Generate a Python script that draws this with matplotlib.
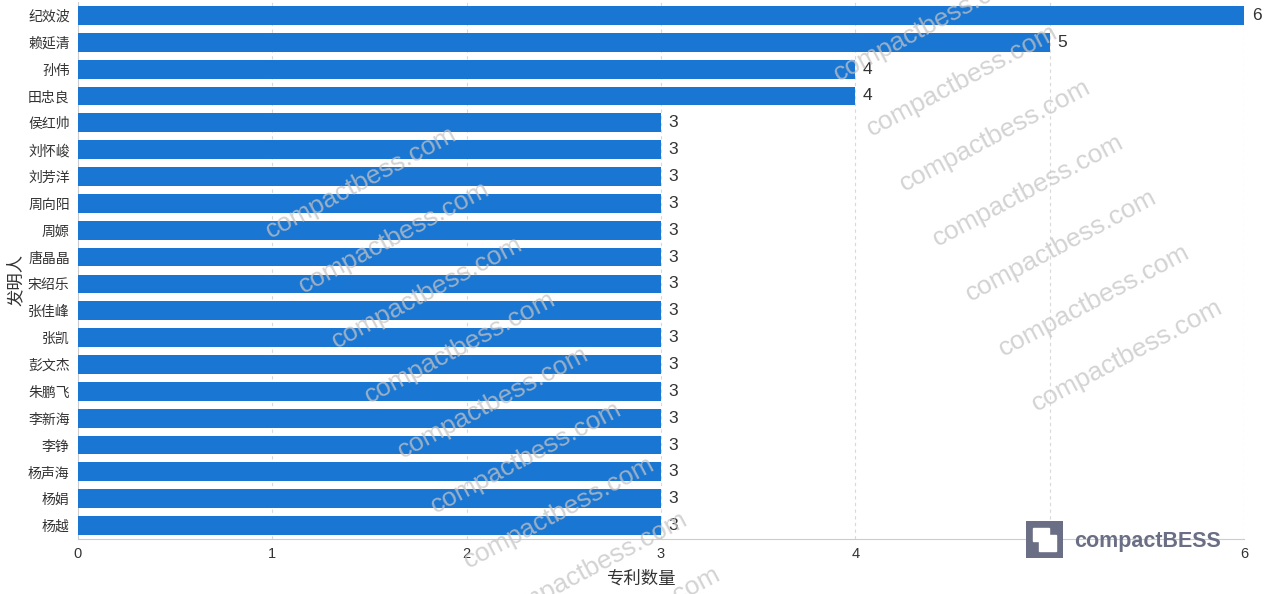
import numpy as np
import matplotlib.pyplot as plt
from matplotlib.patches import Rectangle

plt.rcParams['font.family'] = ['Liberation Sans', 'Noto Sans CJK SC', 'DejaVu Sans']

# data
inventors = ['纪效波', '赖延清', '孙伟', '田忠良', '侯红帅', '刘怀峻', '刘芳洋', '周向阳', '周嫄',
             '唐晶晶', '宋绍乐', '张佳峰', '张凯', '彭文杰', '朱鹏飞', '李新海', '李铮', '杨声海',
             '杨娟', '杨越']
patents = [6, 5, 4, 4, 3, 3, 3, 3, 3, 3, 3, 3, 3, 3, 3, 3, 3, 3, 3, 3]
x_ticks = [0, 1, 2, 3, 4, 5, 6]

W, H = 1269, 594
fig = plt.figure(figsize=(W / 100, H / 100), dpi=100)
ax = fig.add_axes([78 / W, 1 - 539 / H, (1244 - 78) / W, 537 / H])

y = np.arange(len(inventors))
ax.barh(y, patents, height=0.7, color='#1976d2', zorder=3)
for yi, v in zip(y, patents):
    ax.text(v + 0.04, yi, str(v), va='center', ha='left', fontsize=12.5,
            color='#333333', zorder=4)

ax.set_ylim(len(inventors) - 0.5, -0.5)
ax.set_xlim(0, 6)
ax.set_yticks(y)
ax.set_yticklabels(inventors, fontsize=10, color='#333333')
ax.set_xticks(x_ticks)
ax.set_xticklabels([str(t) for t in x_ticks], fontsize=10.5, color='#333333')
ax.tick_params(axis='both', length=0, pad=6)
ax.grid(axis='x', linestyle=(0, (3, 3)), color='#d9d9d9', linewidth=0.8, zorder=0)
for s in ['top', 'right']:
    ax.spines[s].set_visible(False)
ax.spines['left'].set_color('#cccccc')
ax.spines['bottom'].set_color('#cccccc')

fig.text(641 / W, 1 - 578 / H, '专利数量', ha='center', va='center',
         fontsize=12.5, color='#333333')
fig.text(15 / W, 1 - 280 / H, '发明人', ha='center', va='center',
         rotation=90, fontsize=12.5, color='#333333')

# watermarks (two diagonal columns)
wm_pos = [(361 + 33 * i, 182 + 55 * i) for i in range(9)]
wm_pos += [(962 + 33 * i, 80 + 55 * i) for i in range(-1, 6)]
for px, py in wm_pos:
    fig.text(px / W, 1 - py / H, 'compactbess.com', ha='center', va='center',
             rotation=28, fontsize=19, color='#c4c4c4', alpha=0.75, zorder=10,
             clip_on=True)

# logo
logo_ax = fig.add_axes([1026 / W, 1 - 558 / H, 37 / W, 37 / H])
logo_ax.set_xlim(0, 1)
logo_ax.set_ylim(0, 1)
logo_ax.axis('off')
logo_ax.add_patch(Rectangle((0, 0), 1, 1, color='#6b6f85'))
logo_ax.add_patch(Rectangle((0.18, 0.45), 0.45, 0.37, color='white'))
logo_ax.add_patch(Rectangle((0.35, 0.18), 0.45, 0.45, color='white'))
fig.text(1074 / W, 1 - 541 / H, 'compactBESS', ha='left', va='center',
         fontsize=15.5, fontweight='bold', color='#6b6f85')

fig.savefig('out.png', dpi=100)
